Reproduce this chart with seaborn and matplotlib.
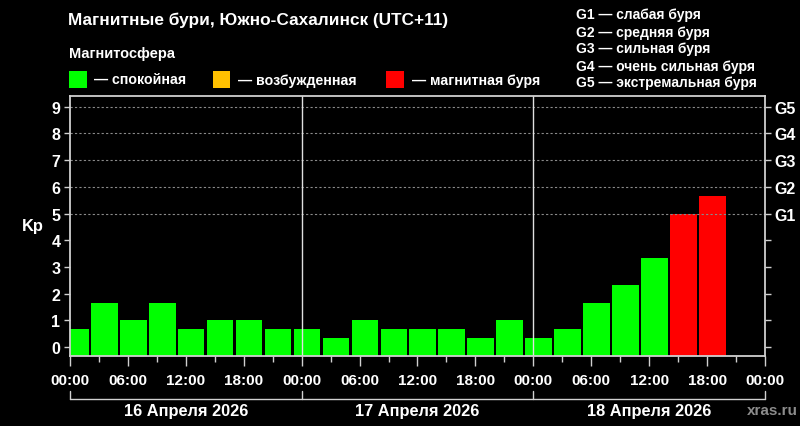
import matplotlib
matplotlib.use("Agg")
import matplotlib.pyplot as plt
import matplotlib.patches as mpatches
import numpy as np
import pandas as pd
import seaborn as sns

# данные: индекс Kp по трёхчасовым интервалам (местное время, UTC+11)
kp_day1 = [0.67, 1.67, 1.0, 1.67, 0.67, 1.0, 1.0, 0.67]
kp_day2 = [0.67, 0.33, 1.0, 0.67, 0.67, 0.67, 0.33, 1.0]
kp_day3 = [0.33, 0.67, 1.67, 2.33, 3.33, 5.0, 5.67]
days = ["16 Апреля 2026", "17 Апреля 2026", "18 Апреля 2026"]
tick_labels = ["00:00", "06:00", "12:00", "18:00"] * 3 + ["00:00"]
g_levels = [5, 6, 7, 8, 9]
g_labels = ["G1", "G2", "G3", "G4", "G5"]
g_desc = ["слабая буря", "средняя буря", "сильная буря",
          "очень сильная буря", "экстремальная буря"]
status_names = ["спокойная", "возбужденная", "магнитная буря"]
status_colors = ["#00ff00", "#ffc000", "#ff0000"]

kp = np.array(kp_day1 + kp_day2 + kp_day3)
hours = np.arange(len(kp)) * 3 + 0.55
status = np.where(kp >= 5, status_names[2],
                  np.where(kp >= 4, status_names[1], status_names[0]))

YMIN, YMAX = -0.33, 9.4
df = pd.DataFrame({"hour": hours, "kp": kp - YMIN, "status": status})

sns.set_theme(style="dark", rc={
    "figure.facecolor": "black", "axes.facecolor": "black",
    "text.color": "white", "axes.labelcolor": "white",
    "xtick.color": "#d0d0d0", "ytick.color": "#d0d0d0",
})
plt.rcParams["font.family"] = ["Liberation Sans", "DejaVu Sans"]
plt.rcParams["font.weight"] = "bold"

fig = plt.figure(figsize=(8, 4.27), dpi=100)
W, H = 800, 427
ax = fig.add_axes([70 / W, 1 - 357 / H, 695 / W, 260 / H])

sns.barplot(data=df, x="hour", y="kp", hue="status", native_scale=True,
            palette=dict(zip(status_names, status_colors)),
            hue_order=status_names, width=0.92, dodge=False, saturation=1,
            bottom=YMIN, linewidth=0, legend=False, ax=ax)

ax.set_xlim(0, 72)
ax.set_ylim(YMIN, YMAX)
ax.hlines(g_levels, 0, 72, colors="#8a8a8a", linestyles=(0, (2, 2)), linewidth=0.8)
for d in (24, 48):
    ax.axvline(d, color="#e0e0e0", linewidth=1)

for s in ax.spines.values():
    s.set_color("#d0d0d0")
    s.set_linewidth(1.3)

ax.set_yticks(range(10))
ax.set_yticklabels([str(i) for i in range(10)], fontsize=11.5, fontweight="bold", color="white")
ax.set_xticks(np.arange(0, 73, 6))
ax.set_xticklabels(tick_labels, fontsize=11, fontweight="bold", color="white")
ax.set_xticks(np.arange(0, 73, 3), minor=True)
ax.tick_params(axis="x", which="major", length=7, width=1, pad=5, bottom=True)
ax.tick_params(axis="x", which="minor", length=4, width=1, bottom=True)
ax.tick_params(axis="y", length=4, width=1, pad=3, left=True)
ax.set_xlabel("")
ax.set_ylabel("Kp", fontsize=11.8, fontweight="bold", color="white",
              rotation=0, labelpad=13, va="center")
ax.grid(False)

ax2 = ax.twinx()
ax2.set_ylim(YMIN, YMAX)
ax2.set_yticks(range(10))
ax2.set_yticklabels([""] * 5 + g_labels, fontsize=11.5, fontweight="bold", color="white")
ax2.tick_params(axis="y", length=4, width=1, pad=3, right=True)
ax2.grid(False)
for s in ax2.spines.values():
    s.set_visible(False)

# скобки с датами под осью
trans = ax.get_xaxis_transform()
ax.plot([0, 72], [-0.165, -0.165], transform=trans, color="#d0d0d0",
        linewidth=1, clip_on=False)
for i, day in enumerate(days):
    ax.plot([24 * i, 24 * i], [-0.135, -0.165], transform=trans,
            color="#d0d0d0", linewidth=1, clip_on=False)
    ax.text(24 * i + 12, -0.208, day, transform=trans, ha="center", va="center",
            fontsize=11.8, fontweight="bold", color="white")
ax.plot([72, 72], [-0.135, -0.165], transform=trans, color="#d0d0d0",
        linewidth=1, clip_on=False)

# заголовок и легенда
fig.text(68 / W, 1 - 20 / H, "Магнитные бури, Южно-Сахалинск (UTC+11)",
         fontsize=12.4, fontweight="bold", va="center")
fig.text(69 / W, 1 - 54 / H, "Магнитосфера", fontsize=10.5,
         fontweight="bold", va="center")
for x0, xt, name, col in zip([69, 213, 386], [94, 238, 412],
                             status_names, status_colors):
    fig.patches.append(mpatches.Rectangle((x0 / W, 1 - 89 / H), 17.5 / W, 17 / H,
                                          transform=fig.transFigure,
                                          facecolor=col, edgecolor="none"))
    fig.text(xt / W, 1 - 80.5 / H, "— " + name, fontsize=10.2,
             fontweight="bold", va="center")

for i, (g, desc) in enumerate(zip(g_labels, g_desc)):
    fig.text(576 / W, 1 - (15.5 + 17 * i) / H, f"{g} — {desc}",
             fontsize=10, fontweight="bold", va="center")

fig.text(798 / W, 1 - 411 / H, "xras.ru", fontsize=11, fontweight="bold",
         color="#8c8c8c", ha="right", va="center")

fig.savefig("out.png", dpi=100, facecolor="black")
